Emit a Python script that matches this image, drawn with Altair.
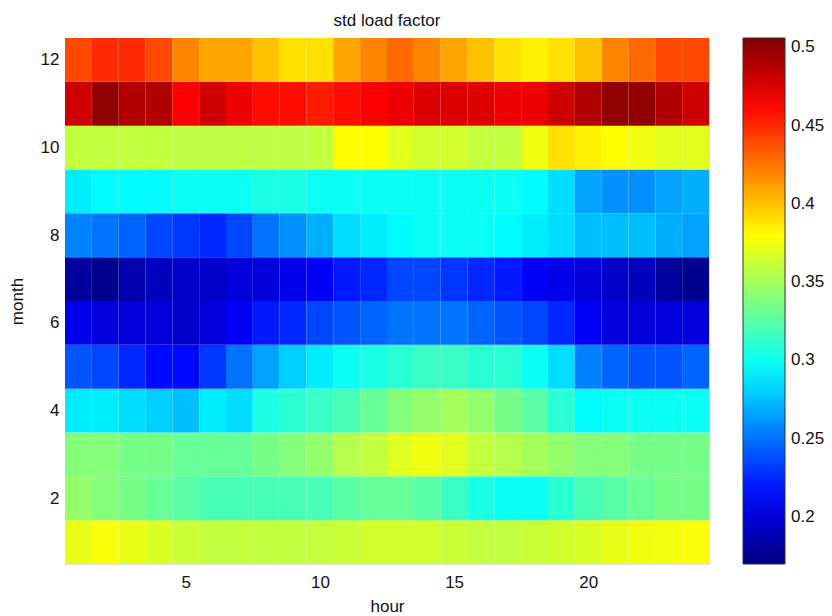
import altair as alt
import pandas as pd

# hours (columns) and months (rows)
hours = list(range(1, 25))
months = list(range(1, 13))

# std load factor per month, values for hours 1..24
month_01 = [0.372, 0.378, 0.372, 0.368, 0.362, 0.360, 0.360, 0.360, 0.360, 0.360, 0.362, 0.365,
            0.365, 0.365, 0.362, 0.360, 0.360, 0.362, 0.365, 0.368, 0.372, 0.375, 0.376, 0.378]
month_02 = [0.345, 0.340, 0.335, 0.330, 0.325, 0.320, 0.320, 0.320, 0.320, 0.320, 0.325, 0.330,
            0.330, 0.325, 0.315, 0.305, 0.300, 0.300, 0.310, 0.320, 0.325, 0.330, 0.335, 0.335]
month_03 = [0.340, 0.340, 0.335, 0.335, 0.330, 0.330, 0.330, 0.335, 0.340, 0.345, 0.355, 0.360,
            0.370, 0.375, 0.370, 0.360, 0.355, 0.350, 0.345, 0.340, 0.340, 0.335, 0.335, 0.335]
month_04 = [0.290, 0.290, 0.285, 0.280, 0.275, 0.290, 0.285, 0.305, 0.310, 0.315, 0.320, 0.330,
            0.340, 0.345, 0.350, 0.345, 0.335, 0.325, 0.310, 0.295, 0.300, 0.300, 0.300, 0.300]
month_05 = [0.240, 0.235, 0.225, 0.215, 0.215, 0.230, 0.250, 0.265, 0.280, 0.290, 0.300, 0.305,
            0.310, 0.315, 0.315, 0.310, 0.310, 0.300, 0.285, 0.255, 0.245, 0.240, 0.240, 0.245]
month_06 = [0.205, 0.200, 0.200, 0.200, 0.195, 0.200, 0.210, 0.220, 0.225, 0.235, 0.240, 0.245,
            0.250, 0.250, 0.250, 0.245, 0.240, 0.235, 0.225, 0.210, 0.200, 0.200, 0.200, 0.200]
month_07 = [0.180, 0.175, 0.185, 0.190, 0.195, 0.195, 0.200, 0.200, 0.205, 0.210, 0.220, 0.225,
            0.235, 0.235, 0.230, 0.225, 0.220, 0.210, 0.205, 0.200, 0.195, 0.190, 0.180, 0.175]
month_08 = [0.255, 0.250, 0.245, 0.235, 0.230, 0.225, 0.235, 0.250, 0.260, 0.270, 0.285, 0.290,
            0.295, 0.300, 0.300, 0.300, 0.295, 0.290, 0.285, 0.275, 0.275, 0.275, 0.270, 0.265]
month_09 = [0.290, 0.295, 0.295, 0.295, 0.300, 0.300, 0.300, 0.305, 0.305, 0.300, 0.300, 0.300,
            0.300, 0.300, 0.300, 0.300, 0.300, 0.295, 0.285, 0.265, 0.260, 0.260, 0.265, 0.270]
month_10 = [0.360, 0.360, 0.360, 0.360, 0.358, 0.358, 0.358, 0.358, 0.358, 0.360, 0.380, 0.380,
            0.370, 0.365, 0.365, 0.360, 0.360, 0.375, 0.390, 0.385, 0.380, 0.375, 0.370, 0.370]
month_11 = [0.480, 0.500, 0.490, 0.490, 0.465, 0.480, 0.470, 0.460, 0.460, 0.455, 0.460, 0.465,
            0.470, 0.475, 0.475, 0.475, 0.470, 0.470, 0.480, 0.490, 0.500, 0.500, 0.490, 0.480]
month_12 = [0.440, 0.450, 0.450, 0.440, 0.420, 0.410, 0.410, 0.400, 0.390, 0.390, 0.410, 0.420,
            0.430, 0.420, 0.410, 0.400, 0.390, 0.385, 0.390, 0.400, 0.420, 0.430, 0.440, 0.440]

rows = [month_01, month_02, month_03, month_04, month_05, month_06,
        month_07, month_08, month_09, month_10, month_11, month_12]

# jet colour map stops
jet_domain = [0.170, 0.212, 0.254, 0.296, 0.338, 0.380, 0.422, 0.464, 0.506]
jet_colors = ["#00007f", "#0000ff", "#007fff", "#00ffff", "#7fff7f",
              "#ffff00", "#ff7f00", "#ff0000", "#7f0000"]
legend_ticks = [0.2, 0.25, 0.3, 0.35, 0.4, 0.45, 0.5]
x_ticks = [5, 10, 15, 20]
y_ticks = [2, 4, 6, 8, 10, 12]

records = []
for m, row in zip(months, rows):
    for h, v in zip(hours, row):
        records.append({"hour": h, "month": m, "value": v})
df = pd.DataFrame(records)

FONT = "Liberation Sans"
jet = alt.Scale(domain=jet_domain, range=jet_colors, interpolate="rgb", clamp=True)

chart = (
    alt.Chart(df)
    .transform_calculate(h0="datum.hour - 0.5", h1="datum.hour + 0.5",
                         m0="datum.month - 0.5", m1="datum.month + 0.5")
    .mark_rect()
    .encode(
        x=alt.X("h0:Q", title="hour",
                scale=alt.Scale(domain=[0.5, 24.5], nice=False, zero=False),
                axis=alt.Axis(values=x_ticks, ticks=False, tickSize=0, domain=False, grid=False,
                              labelPadding=10, titlePadding=8, labelFontSize=17, titleFontSize=17,
                              labelFont=FONT, titleFont=FONT, labelColor="#111", titleColor="#111",
                              titleFontWeight="normal")),
        x2="h1:Q",
        y=alt.Y("m0:Q", title="month",
                scale=alt.Scale(domain=[0.5, 12.5], nice=False, zero=False),
                axis=alt.Axis(values=y_ticks, ticks=False, tickSize=0, domain=False, grid=False,
                              labelPadding=6, titlePadding=14, labelFontSize=17, titleFontSize=17,
                              labelFont=FONT, titleFont=FONT, labelColor="#111", titleColor="#111",
                              titleFontWeight="normal")),
        y2="m1:Q",
        color=alt.Color("value:Q", scale=jet, title=None,
                        legend=alt.Legend(type="gradient", orient="none", legendX=678, legendY=0,
                                          direction="vertical", gradientLength=526,
                                          gradientThickness=42, values=legend_ticks,
                                          format=".2~f",
                                          labelFontSize=17, labelFont=FONT, labelColor="#111",
                                          labelOffset=6, labelOverlap=False, padding=0,
                                          gradientStrokeColor="#333", gradientStrokeWidth=1)),
    )
    .properties(
        width=644, height=526,
        title=alt.TitleParams("std load factor", font=FONT, fontSize=17, fontWeight="normal",
                              color="#111", anchor="middle", frame="group", baseline="bottom",
                              offset=12, dy=21),
        padding={"left": 65, "top": 38, "right": 123, "bottom": 52},
        autosize=alt.AutoSizeParams(type="none"),
    )
    .configure_view(stroke="#666", strokeWidth=1)
    .configure(background="white")
)

chart.save("out.html", embed_options={"renderer": "svg", "actions": False})
